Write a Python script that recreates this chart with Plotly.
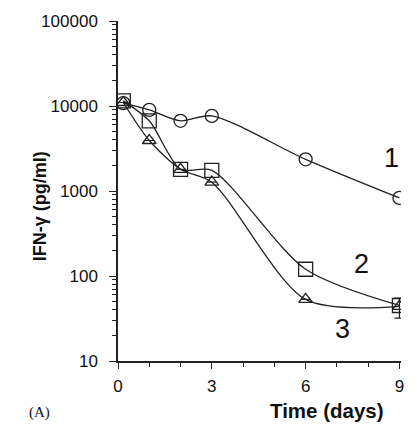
import math
import plotly.graph_objects as go

days = [0.17, 1, 2, 3, 6, 9]
s1 = [10800, 9000, 6700, 7650, 2360, 830]
s2 = [11500, 6700, 1800, 1750, 120, 45]
s3 = [11000, 3930, 1800, 1270, 53, 44]
s3_err_plus = [0, 0, 0, 0, 0, 11]
s3_err_minus = [0, 0, 0, 0, 0, 12]
series_labels = ["1", "2", "3"]
label_pos = [(8.75, 2450), (7.8, 140), (7.17, 24)]

fig = go.Figure()
line = dict(color="#222", width=1.3, shape="spline", smoothing=0.8)
fig.add_trace(go.Scatter(x=days, y=s1, mode="lines+markers", line=line,
                         marker=dict(symbol="circle-open", size=13, color="#222", line=dict(width=1.3))))
fig.add_trace(go.Scatter(x=days, y=s2, mode="lines+markers", line=line,
                         marker=dict(symbol="square-open", size=14, color="#222", line=dict(width=1.3))))
fig.add_trace(go.Scatter(x=days, y=s3, mode="lines+markers", line=line,
                         error_y=dict(type="data", array=s3_err_plus, arrayminus=s3_err_minus,
                                      color="#222", thickness=1.2, width=5),
                         marker=dict(symbol="triangle-up-open", size=12, color="#222", line=dict(width=1.3))))

for t, (lx, ly) in zip(series_labels, label_pos):
    fig.add_annotation(x=lx, y=math.log10(ly), text=t, showarrow=False,
                       font=dict(family="Liberation Sans, Arial", size=27, color="#111"))

fig.add_annotation(xref="paper", yref="paper", x=-0.276, y=0.455, text="<b>IFN-γ (pg/ml)</b>",
                   textangle=-90, showarrow=False, xanchor="center", yanchor="middle",
                   font=dict(family="Liberation Sans, Arial", size=18, color="#111"))
fig.add_annotation(xref="x", yref="paper", x=6.68, y=-0.145, text="<b>Time (days)</b>",
                   showarrow=False, yanchor="middle",
                   font=dict(family="Liberation Sans, Arial", size=20.5, color="#111"))
fig.add_annotation(xref="paper", yref="paper", x=-0.32, y=-0.151, text="(A)", showarrow=False,
                   xanchor="left", yanchor="middle",
                   font=dict(family="Liberation Serif, Times New Roman", size=15, color="#111"))

fig.update_layout(
    width=420, height=430, margin=dict(l=118, r=19, t=16, b=69),
    paper_bgcolor="white", plot_bgcolor="white", showlegend=False,
    font=dict(family="Liberation Sans, Arial", size=17, color="#111"),
)
fig.update_xaxes(range=[0, 9.05], tickvals=[0, 3, 6, 9], ticks="outside", ticklen=6,
                 showline=True, linecolor="#222", linewidth=1.5, showgrid=False, zeroline=False,
                 minor=dict(dtick=1, ticks="outside", ticklen=4, tickcolor="#222"),
                 tickcolor="#222", tickfont=dict(size=17), ticklabelstandoff=3)
fig.update_yaxes(type="log", range=[1, 5], dtick=1, tickformat="d", ticks="outside", ticklen=7,
                 showline=True, linecolor="#222", linewidth=1.5, showgrid=False, zeroline=False,
                 minor=dict(ticks="outside", ticklen=4, tickcolor="#222", showgrid=False),
                 tickcolor="#222", tickfont=dict(size=17), ticklabelstandoff=8)

fig.write_html("out.html")
